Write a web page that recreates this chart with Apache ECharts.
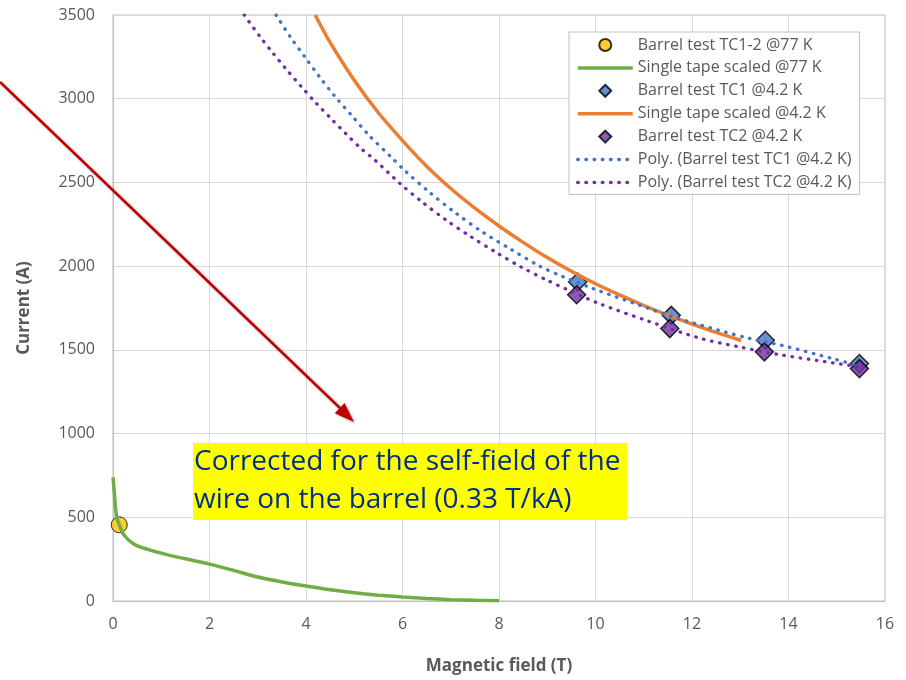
<!DOCTYPE html>
<html>
<head>
<meta charset="utf-8">
<script src="https://cdn.jsdelivr.net/npm/echarts@6/dist/echarts.min.js"></script>
<style>
  html, body { margin: 0; padding: 0; background: #fff; }
  #chart { width: 906px; height: 680px; }
</style>
</head>
<body>
<div id="chart"></div>
<script>
// values: [field (T), current (A)]
var barrel77 = [[0.13, 455]];
var tape77 = [[0, 738], [0.03, 640], [0.05, 560], [0.08, 496], [0.13, 455], [0.23, 393], [0.43, 341],
  [0.7, 310], [1.12, 277], [1.5, 252], [1.98, 222], [2.5, 183], [3, 143], [3.5, 114], [4, 89],
  [4.5, 67], [5, 49], [5.5, 35], [6, 24], [6.5, 15], [7, 8], [7.5, 4], [8, 2]];
var barrelTC1 = [[9.63, 1905], [11.57, 1706], [13.52, 1557], [15.47, 1418]];
var tape42 = [[4.19, 3500], [4.5, 3336], [5, 3110], [5.5, 2916], [6, 2750], [6.5, 2597], [7, 2464],
  [7.5, 2346], [8, 2240], [8.5, 2142], [9, 2051], [9.5, 1969], [10, 1895], [10.5, 1828], [11, 1765],
  [11.5, 1707], [12, 1654], [12.5, 1604], [13.02, 1556]];
var barrelTC2 = [[9.61, 1829], [11.54, 1627], [13.5, 1488], [15.47, 1388]];
var polyTC1 = [[3.38, 3500], [3.67, 3371], [3.98, 3248], [4.29, 3127], [4.61, 3010], [4.95, 2899],
  [5.29, 2786], [5.78, 2647], [6.02, 2578], [6.55, 2443], [7.09, 2320], [7.65, 2205], [8.24, 2102],
  [8.83, 2002], [9.31, 1939], [9.93, 1868], [10.92, 1766], [11.57, 1700], [12.57, 1616],
  [13.2, 1568], [13.92, 1523], [14.92, 1447], [15.44, 1407]];
var polyTC2 = [[2.72, 3500], [3.03, 3377], [3.31, 3274], [3.6, 3173], [3.9, 3073], [4.21, 2974],
  [4.52, 2881], [4.83, 2790], [5.16, 2697], [5.4, 2641], [5.95, 2493], [6.42, 2380], [6.9, 2276],
  [7.41, 2177], [7.92, 2086], [8.45, 1996], [8.99, 1917], [9.4, 1862], [10.09, 1775], [11.06, 1675],
  [12.16, 1570], [12.99, 1517], [13.8, 1472], [14.58, 1437], [15.27, 1407], [15.45, 1396]];

var xTicks = { min: 0, max: 16, step: 2 };
var yTicks = { min: 0, max: 3500, step: 500 };

var names = [
  'Barrel test TC1-2 @77 K',
  'Single tape scaled @77 K',
  'Barrel test TC1 @4.2 K',
  'Single tape scaled @4.2 K',
  'Barrel test TC2 @4.2 K',
  'Poly. (Barrel test TC1 @4.2 K)',
  'Poly. (Barrel test TC2 @4.2 K)'
];

var FONT = 'Open Sans';
var grey = '#595959';
var diamondPath = 'path://M0,-10L10,0L0,10L-10,0Z';
var noMarker = { opacity: 0 };

var myChart = echarts.init(document.getElementById('chart'));

var dotted = [0.5, 7.7];

var option = {
  animation: false,
  textStyle: { fontFamily: FONT },
  grid: { left: 113, right: 21, top: 15, bottom: 77, show: true, borderColor: '#bfbfbf', borderWidth: 1 },
  legend: {
    orient: 'vertical',
    left: 569, top: 32,
    padding: [5, 8, 4, 7],
    itemWidth: 55, itemHeight: 12, itemGap: 6.9,
    backgroundColor: '#fff',
    borderColor: '#bfbfbf', borderWidth: 1,
    borderRadius: 0,
    symbolKeepAspect: true,
    lineStyle: { width: 3.5 },
    textStyle: { color: grey, fontSize: 16, fontFamily: FONT, lineHeight: 15 },
    data: [
      { name: names[0], icon: 'circle' },
      { name: names[1], itemStyle: noMarker },
      { name: names[2], icon: diamondPath },
      { name: names[3], itemStyle: noMarker },
      { name: names[4], icon: diamondPath },
      { name: names[5], itemStyle: noMarker },
      { name: names[6], itemStyle: noMarker }
    ]
  },
  xAxis: {
    type: 'value',
    min: xTicks.min, max: xTicks.max, interval: xTicks.step,
    name: 'Magnetic field (T)', nameLocation: 'middle', nameGap: 57,
    nameTextStyle: { color: grey, fontSize: 17, fontWeight: 'bold', fontFamily: FONT },
    axisLine: { show: true, lineStyle: { color: '#bfbfbf', width: 1 } },
    axisTick: { show: false },
    axisLabel: { color: grey, fontSize: 16, margin: 15 },
    splitLine: { lineStyle: { color: '#d9d9d9', width: 1 } }
  },
  yAxis: {
    type: 'value',
    min: yTicks.min, max: yTicks.max, interval: yTicks.step,
    name: 'Current (A)', nameLocation: 'middle', nameGap: 80,
    nameTextStyle: { color: grey, fontSize: 17, fontWeight: 'bold', fontFamily: FONT },
    axisLine: { show: true, lineStyle: { color: '#bfbfbf', width: 1 } },
    axisTick: { show: false },
    axisLabel: { color: grey, fontSize: 16, margin: 18, formatter: function (v) { return String(v); } },
    splitLine: { lineStyle: { color: '#d9d9d9', width: 1 } }
  },
  series: [
    {
      name: names[0], type: 'scatter', data: barrel77,
      symbol: 'circle', symbolSize: 16,
      itemStyle: { color: '#FFC000', borderColor: '#000', borderWidth: 1 }
    },
    {
      name: names[1], type: 'line', data: tape77, smooth: 0.3, showSymbol: false, symbol: 'none',
      lineStyle: { color: '#70AD47', width: 3.5 }, itemStyle: { color: '#70AD47' }
    },
    {
      name: names[2], type: 'scatter', data: barrelTC1,
      symbol: 'diamond', symbolSize: 18,
      itemStyle: { color: '#4472C4', borderColor: '#000', borderWidth: 1.5 }
    },
    {
      name: names[3], type: 'line', data: tape42, smooth: 0.3, showSymbol: false, symbol: 'none',
      lineStyle: { color: '#ED7D31', width: 3.5 }, itemStyle: { color: '#ED7D31' }
    },
    {
      name: names[4], type: 'scatter', data: barrelTC2,
      symbol: 'diamond', symbolSize: 18,
      itemStyle: { color: '#7030A0', borderColor: '#000', borderWidth: 1.5 }
    },
    {
      name: names[5], type: 'line', data: polyTC1, smooth: 0.3, showSymbol: false, symbol: 'none',
      lineStyle: { color: '#4472C4', width: 3.3, type: dotted, cap: 'round' }, itemStyle: { color: '#4472C4' }
    },
    {
      name: names[6], type: 'line', data: polyTC2, smooth: 0.3, showSymbol: false, symbol: 'none',
      lineStyle: { color: '#7030A0', width: 3.3, type: dotted, cap: 'round' }, itemStyle: { color: '#7030A0' }
    }
  ],
  graphic: [
    // red annotation arrow
    {
      type: 'line', z: 100,
      shape: { x1: 0, y1: 82, x2: 341, y2: 409 },
      style: { stroke: '#C00000', lineWidth: 2.5, shadowBlur: 3, shadowColor: 'rgba(0,0,0,0.3)', shadowOffsetX: 1.5, shadowOffsetY: 1.5 }
    },
    {
      type: 'polygon', z: 100,
      shape: { points: [[354, 422], [334.7, 413.2], [344.5, 403]] },
      style: { fill: '#C00000', shadowBlur: 3, shadowColor: 'rgba(0,0,0,0.3)', shadowOffsetX: 1.5, shadowOffsetY: 1.5 }
    },
    // highlighted note
    {
      type: 'rect', z: 100,
      shape: { x: 193, y: 443, width: 434, height: 77 },
      style: { fill: '#FFFF00' }
    },
    {
      type: 'text', z: 101, left: 194, top: 443,
      style: {
        text: 'Corrected for the self-field of the\nwire on the barrel (0.33 T/kA)',
        fill: '#002E8A', font: '28px "Open Sans"', lineHeight: 38
      }
    }
  ]
};

myChart.setOption(option);
</script>
</body>
</html>
